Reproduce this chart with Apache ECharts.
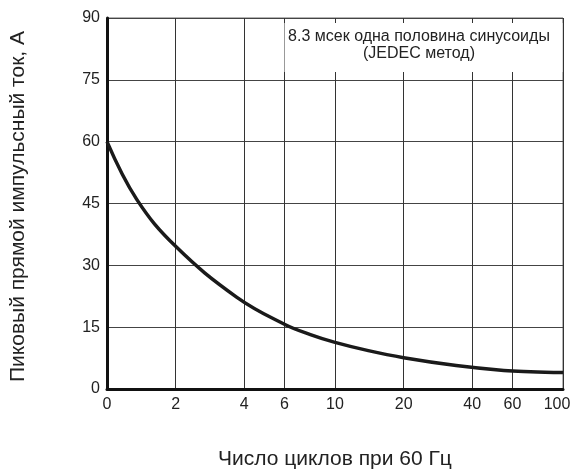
<!DOCTYPE html>
<html>
<head>
<meta charset="utf-8">
<script src="https://cdn.jsdelivr.net/npm/echarts@6/dist/echarts.min.js"></script>
<style>html,body{margin:0;padding:0;background:#fff}#c{width:571px;height:472px}</style>
</head>
<body>
<div id="c"></div>
<script>
// Number of cycles at 60 Hz (log scale; first tick labelled "0" sits at 1 cycle)
const cycles = [1, 1.35, 2, 3.7, 6, 7.8, 10, 14, 20, 34, 55, 72, 100];
// Peak forward surge current, A
const current = [60, 46, 34.6, 22.3, 15.7, 13.2, 11.3, 9.3, 7.6, 5.7, 4.5, 4.2, 4.0];
const xTickValues = [1, 2, 4, 6, 10, 20, 40, 60, 100];
const xTickLabels = ['0', '2', '4', '6', '10', '20', '40', '60', '100'];
const yTickLabels = ['0', '15', '30', '45', '60', '75', '90'];
const noteLines = ['8.3 мсек одна половина синусоиды', '(JEDEC метод)'];
const xTitle = 'Число циклов при 60 Гц';
const yTitle = 'Пиковый прямой импульсный ток, А';

const chart = echarts.init(document.getElementById('c'));
const tickFont = '"Liberation Sans Narrow", "Arial Narrow", "Liberation Sans", Arial, sans-serif';
const textFont = '"Liberation Sans", Arial, sans-serif';

chart.setOption({
  animation: false,
  grid: { left: 107, right: 8, top: 18, bottom: 83, outerBoundsMode: 'none', containLabel: false,
          show: true, borderColor: '#666', borderWidth: 1 },
  xAxis: {
    type: 'log', logBase: 10, min: 1, max: 100,
    name: xTitle, nameLocation: 'middle', nameGap: 60,
    nameTextStyle: { fontFamily: textFont, fontSize: 21, color: '#222' },
    axisLine: { show: true, lineStyle: { color: '#111', width: 3 } },
    axisTick: { show: false, customValues: xTickValues },
    axisLabel: {
      customValues: xTickValues, margin: 8,
      fontFamily: tickFont, fontSize: 16, color: '#222',
      formatter: v => {
        const i = xTickValues.indexOf(Math.round(v));
        return i === xTickValues.length - 1 ? '{last|' + xTickLabels[i] + '}' : xTickLabels[i];
      },
      rich: { last: { fontFamily: tickFont, fontSize: 16, color: '#222', padding: [0, 12, 0, 0] } }
    },
    splitLine: { show: true, lineStyle: { color: '#333', width: 1 } },
    minorSplitLine: { show: false }
  },
  yAxis: {
    type: 'value', min: 0, max: 90, interval: 15,
    name: yTitle, nameLocation: 'middle', nameGap: 78, nameRotate: 90,
    nameTextStyle: { fontFamily: textFont, fontSize: 21, color: '#222', padding: [0, 6, 0, 0] },
    axisLine: { show: true, lineStyle: { color: '#111', width: 3 } },
    axisTick: { show: false },
    axisLabel: {
      margin: 7, fontFamily: tickFont, fontSize: 16, color: '#222',
      formatter: v => yTickLabels[Math.round(v / 15)]
    },
    splitLine: { show: true, lineStyle: { color: '#444', width: 1 } }
  },
  graphic: [
    { type: 'rect', z: 100, shape: { x: 284.5, y: 23, width: 278, height: 49 }, style: { fill: '#fff' } },
    { type: 'text', z: 101, x: 419, y: 37, style: { text: noteLines[0], font: '16px ' + textFont, fill: '#222', align: 'center', verticalAlign: 'middle' } },
    { type: 'text', z: 101, x: 419, y: 54, style: { text: noteLines[1], font: '16px ' + textFont, fill: '#222', align: 'center', verticalAlign: 'middle' } }
  ],
  series: [{
    type: 'line', data: cycles.map((c, i) => [c, current[i]]),
    smooth: 0.4, symbol: 'none',
    lineStyle: { color: '#1a1a1a', width: 3.5 }
  }]
});
</script>
</body>
</html>
